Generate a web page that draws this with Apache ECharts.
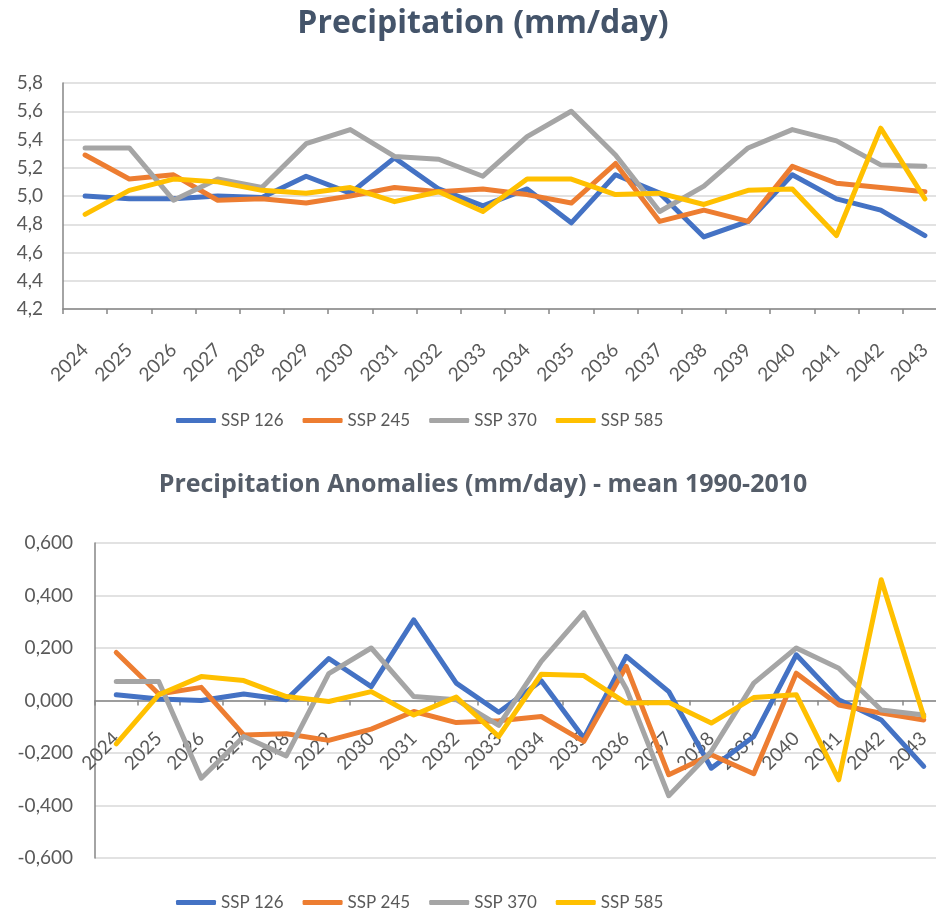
<!DOCTYPE html>
<html>
<head>
<meta charset="utf-8">
<script src="https://cdn.jsdelivr.net/npm/echarts@6/dist/echarts.min.js"></script>
<style>
  html, body { margin: 0; padding: 0; background: #ffffff; }
  #chart { width: 936px; height: 920px; }
</style>
</head>
<body>
<div id="chart"></div>
<script>
// Years on the category axis
const years = ['2024','2025','2026','2027','2028','2029','2030','2031','2032','2033',
               '2034','2035','2036','2037','2038','2039','2040','2041','2042','2043'];

const seriesNames = ['SSP 126', 'SSP 245', 'SSP 370', 'SSP 585'];

// Precipitation (mm/day)
const precipSsp126 = [5.00, 4.98, 4.98, 5.00, 4.99, 5.14, 5.02, 5.27, 5.05, 4.93,
                      5.05, 4.81, 5.15, 5.02, 4.71, 4.82, 5.15, 4.98, 4.90, 4.72];
const precipSsp245 = [5.29, 5.12, 5.15, 4.97, 4.98, 4.95, 5.00, 5.06, 5.03, 5.05,
                      5.01, 4.95, 5.23, 4.82, 4.90, 4.82, 5.21, 5.09, 5.06, 5.03];
const precipSsp370 = [5.34, 5.34, 4.97, 5.12, 5.06, 5.37, 5.47, 5.28, 5.26, 5.14,
                      5.42, 5.60, 5.29, 4.89, 5.07, 5.34, 5.47, 5.39, 5.22, 5.21];
const precipSsp585 = [4.87, 5.04, 5.12, 5.10, 5.04, 5.02, 5.06, 4.96, 5.03, 4.89,
                      5.12, 5.12, 5.01, 5.02, 4.94, 5.04, 5.05, 4.72, 5.48, 4.98];

// Precipitation anomalies (mm/day) relative to the 1990-2010 mean
const anomSsp126 = [0.022, 0.006, 0.000, 0.025, 0.003, 0.160, 0.053, 0.307, 0.066, -0.045,
                    0.075, -0.143, 0.168, 0.034, -0.258, -0.137, 0.174, 0.003, -0.074, -0.251];
const anomSsp245 = [0.183, 0.025, 0.050, -0.131, -0.127, -0.152, -0.109, -0.042, -0.084, -0.077,
                    -0.061, -0.156, 0.130, -0.283, -0.207, -0.279, 0.104, -0.017, -0.048, -0.074];
const anomSsp370 = [0.072, 0.072, -0.296, -0.137, -0.211, 0.102, 0.200, 0.015, 0.003, -0.095,
                    0.149, 0.335, 0.045, -0.363, -0.194, 0.066, 0.200, 0.123, -0.036, -0.055];
const anomSsp585 = [-0.165, 0.022, 0.091, 0.076, 0.015, -0.004, 0.034, -0.055, 0.013, -0.137,
                    0.100, 0.095, -0.010, -0.008, -0.086, 0.011, 0.022, -0.302, 0.460, -0.061];

const colors = ['#4472C4', '#ED7D31', '#A5A5A5', '#FFC000'];
const FONT = 'Lato, "Liberation Sans", sans-serif';
const TITLE_FONT = '"Open Sans", Lato, sans-serif';
const axisGray = '#868686';
const labelGray = '#595959';
const gridGray = '#D9D9D9';

// Value ranges of the two panels
const precipMin = 4.2, precipMax = 5.8, precipStep = 0.2;
const anomMin = -0.6, anomMax = 0.6, anomStep = 0.2;

// Panel boxes
const topGrid = { left: 63, right: -11, top: 83, height: 226, outerBoundsMode: 'none' };
const bottomGrid = { left: 95, right: -9, top: 543, height: 315, outerBoundsMode: 'none' };

// The year axis of the anomaly panel sits on the zero line
const zeroLineShift = -bottomGrid.height * (0 - anomMin) / (anomMax - anomMin);

function lineSeries(name, data, idx, color) {
  return {
    name: name,
    type: 'line',
    xAxisIndex: idx,
    yAxisIndex: idx,
    data: data,
    symbol: 'none',
    smooth: false,
    lineStyle: { width: 5, color: color, cap: 'round', join: 'round' },
    itemStyle: { color: color },
    z: 2
  };
}

const commaFmt = (digits) => (v) => v.toFixed(digits).replace('.', ',');

function legendAt(top) {
  return {
    data: seriesNames, left: 171, top: top,
    icon: 'roundRect', itemWidth: 40, itemHeight: 5, itemGap: 19,
    textStyle: { fontFamily: FONT, fontSize: 17, color: labelGray }
  };
}

function yearAxis(grid, margin, extra) {
  return Object.assign({
    type: 'category', gridIndex: grid, data: years, boundaryGap: true,
    axisLine: { onZero: false, lineStyle: { color: axisGray, width: 1.5 } },
    axisTick: { show: true, length: 5, lineStyle: { color: axisGray, width: 1.5 } },
    axisLabel: { rotate: 45, margin: margin, fontFamily: FONT, fontSize: 19, color: labelGray, interval: 0 }
  }, extra || {});
}

function valueAxis(grid, min, max, step, digits) {
  return {
    type: 'value', gridIndex: grid, min: min, max: max, interval: step,
    axisLine: { show: true, onZero: false, lineStyle: { color: axisGray, width: 1.5 } },
    axisTick: { show: false },
    splitLine: { lineStyle: { color: gridGray, width: 1.5 } },
    axisLabel: { formatter: commaFmt(digits), margin: digits === 1 ? 20 : 22,
                 fontFamily: FONT, fontSize: 19, color: labelGray }
  };
}

const chart = echarts.init(document.getElementById('chart'), null, { renderer: 'canvas' });

const option = {
  backgroundColor: '#ffffff',
  animation: false,
  color: colors,
  title: [
    {
      text: 'Precipitation (mm/day)',
      left: 478, top: 3, textAlign: 'center',
      textStyle: { fontFamily: TITLE_FONT, fontWeight: 'bold', fontSize: 32, color: '#44546A' }
    },
    {
      text: 'Precipitation Anomalies (mm/day) - mean 1990-2010',
      left: 478, top: 467, textAlign: 'center',
      textStyle: { fontFamily: TITLE_FONT, fontWeight: 'bold', fontSize: 25, color: '#555D69' }
    }
  ],
  legend: [legendAt(407), legendAt(889)],
  grid: [topGrid, bottomGrid],
  xAxis: [
    yearAxis(0, 38),
    yearAxis(1, 35, { offset: zeroLineShift })
  ],
  yAxis: [
    valueAxis(0, precipMin, precipMax, precipStep, 1),
    valueAxis(1, anomMin, anomMax, anomStep, 3)
  ],
  series: [
    lineSeries('SSP 126', precipSsp126, 0, colors[0]),
    lineSeries('SSP 245', precipSsp245, 0, colors[1]),
    lineSeries('SSP 370', precipSsp370, 0, colors[2]),
    lineSeries('SSP 585', precipSsp585, 0, colors[3]),
    lineSeries('SSP 126', anomSsp126, 1, colors[0]),
    lineSeries('SSP 245', anomSsp245, 1, colors[1]),
    lineSeries('SSP 370', anomSsp370, 1, colors[2]),
    lineSeries('SSP 585', anomSsp585, 1, colors[3])
  ]
};

chart.setOption(option);
</script>
</body>
</html>
